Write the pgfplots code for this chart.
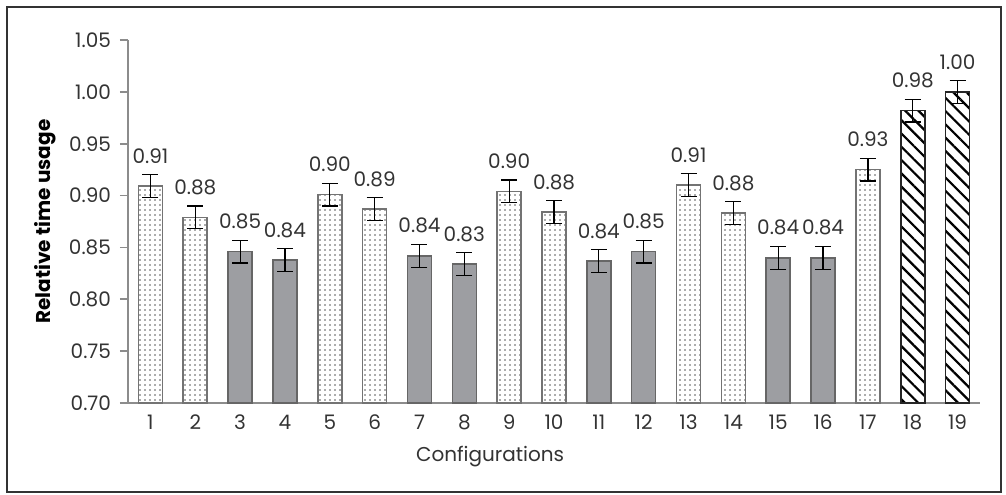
\documentclass[border=0pt]{standalone}
\usepackage{pgfplots}
\pgfplotsset{compat=1.18}
\usetikzlibrary{patterns.meta}
\usepackage{fontspec}
\setmainfont{Poppins}
\definecolor{axisgray}{HTML}{8C8C8C}
\definecolor{barfill}{HTML}{9D9EA2}
\definecolor{baredge}{HTML}{666666}
\definecolor{txt}{HTML}{333333}
\newcommand{\lblfont}{\fontsize{10}{12}\selectfont}
\begin{document}
\begin{tikzpicture}
\begin{axis}[
  scale only axis, width=426pt, height=181.5pt,
  xmin=0.5, xmax=19.5, ymin=0.7, ymax=1.05,
  axis x line=bottom, axis y line=left,
  axis line style={axisgray, line width=0.8pt, -},
  ytick={0.70,0.75,0.80,0.85,0.90,0.95,1.00,1.05},
  xtick={1,2,...,19},
  xtick style={draw=none},
  ytick style={axisgray, line width=0.8pt},
  tick align=outside, major tick length=4pt,
  /pgf/number format/assume math mode=true,
  yticklabel style={/pgf/number format/fixed, /pgf/number format/fixed zerofill, /pgf/number format/precision=2, xshift=-1pt},
  ticklabel style={font=\lblfont, text=txt},
  xticklabel style={yshift=1.5pt},
  ybar, bar width=12pt, bar shift=0pt,
  xlabel={Configurations},
  ylabel={Relative time usage},
  xlabel style={font=\lblfont, text=txt, at={(axis description cs:0.425,0)}, anchor=center, yshift=-27pt},
  ylabel style={font=\lblfont\bfseries, text=black, at={(axis description cs:0,0.5)}, anchor=center, yshift=41.5pt},
  nodes near coords={\pgfmathprintnumber[fixed,fixed zerofill,precision=2]{\pgfplotspointmeta}},
  every node near coord/.append style={font=\lblfont, text=txt, anchor=base, yshift=11.4pt},
  error bars/y dir=both, error bars/y explicit,
  error bars/error bar style={black, line width=0.6pt},
  error bars/error mark options={rotate=90, mark size=4pt, line width=0.6pt, black},
  clip=false,
]
% dotted bars
\addplot[draw=black!55, line width=0.8pt, pattern={Dots[distance=2.5pt, radius=0.4pt]}, pattern color=black!65]
  coordinates {
  (1,0.909) +- (0,0.011)
  (2,0.879) +- (0,0.011)
  (5,0.901) +- (0,0.011)
  (6,0.887) +- (0,0.011)
  (9,0.904) +- (0,0.011)
  (10,0.884) +- (0,0.011)
  (13,0.910) +- (0,0.011)
  (14,0.883) +- (0,0.011)
  (17,0.925) +- (0,0.011)
  };
% gray bars
\addplot[draw=baredge, line width=0.8pt, fill=barfill]
  coordinates {
  (3,0.846) +- (0,0.011)
  (4,0.838) +- (0,0.011)
  (7,0.842) +- (0,0.011)
  (8,0.834) +- (0,0.011)
  (11,0.837) +- (0,0.011)
  (12,0.846) +- (0,0.011)
  (15,0.840) +- (0,0.011)
  (16,0.840) +- (0,0.011)
  };
% hatched bars
\addplot[draw=black!85, line width=0.8pt, pattern={Lines[angle=-45, distance=4.7pt, line width=1.1pt]}, pattern color=black]
  coordinates {
  (18,0.982) +- (0,0.011)
  (19,1.000) +- (0,0.011)
  };
\end{axis}
\draw[black!80, line width=0.9pt] ([xshift=-60.5pt,yshift=-44.5pt]current axis.south west) rectangle ([xshift=10.5pt,yshift=16.5pt]current axis.north east);
\path ([xshift=-64pt,yshift=-46pt]current axis.south west) rectangle ([xshift=13pt,yshift=20pt]current axis.north east);
\end{tikzpicture}
\end{document}
